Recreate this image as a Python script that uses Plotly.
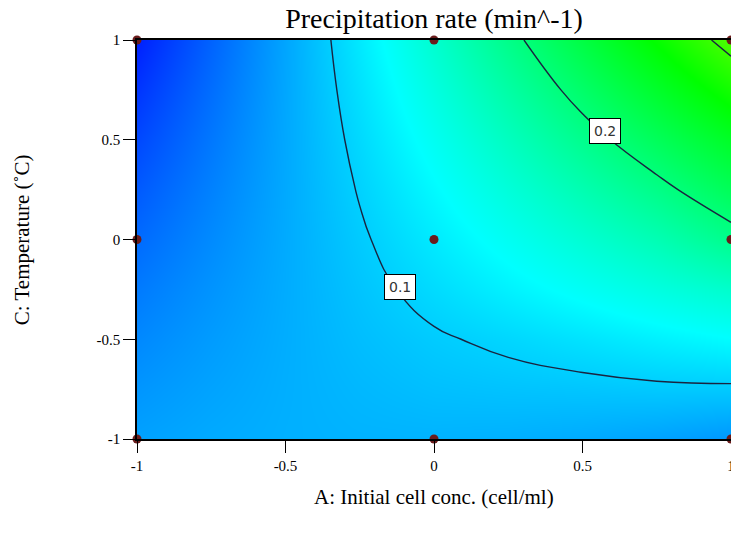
import plotly.graph_objects as go

# Coded factor levels (grid of the response surface)
x_levels = [-1, -0.75, -0.5, -0.25, 0, 0.25, 0.5, 0.75, 1]   # A: Initial cell conc.
y_levels = [-1, -0.75, -0.5, -0.25, 0, 0.25, 0.5, 0.75, 1]   # C: Temperature

# Precipitation rate (min^-1), rows = y_levels, cols = x_levels
rate_y_m100 = [0.0745, 0.0792, 0.0824, 0.0840, 0.0840, 0.0825, 0.0794, 0.0747, 0.0685]
rate_y_m075 = [0.0679, 0.0753, 0.0817, 0.0869, 0.0911, 0.0930, 0.0945, 0.0965, 0.0968]
rate_y_m050 = [0.0606, 0.0712, 0.0810, 0.0902, 0.0977, 0.1040, 0.1110, 0.1185, 0.1256]
rate_y_m025 = [0.0527, 0.0667, 0.0803, 0.0936, 0.1066, 0.1192, 0.1315, 0.1434, 0.1550]
rate_y_000 = [0.0440, 0.0618, 0.0796, 0.0973, 0.1150, 0.1326, 0.1501, 0.1676, 0.1900]
rate_y_p025 = [0.0347, 0.0567, 0.0789, 0.1013, 0.1238, 0.1465, 0.1694, 0.1924, 0.2190]
rate_y_p050 = [0.0246, 0.0513, 0.0783, 0.1055, 0.1331, 0.1610, 0.1893, 0.2178, 0.2466]
rate_y_p075 = [0.0139, 0.0455, 0.0776, 0.1100, 0.1428, 0.1761, 0.2098, 0.2438, 0.2783]
rate_y_p100 = [0.0025, 0.0395, 0.0769, 0.1147, 0.1530, 0.1917, 0.2309, 0.2705, 0.3105]
z_rate = [rate_y_m100, rate_y_m075, rate_y_m050, rate_y_m025, rate_y_000,
          rate_y_p025, rate_y_p050, rate_y_p075, rate_y_p100]

# Contour levels and their labels
contour_levels = [0.1, 0.2, 0.3]
label_text = ["0.1", "0.2"]
label_x = [-0.114, 0.576]
label_y = [-0.236, 0.546]

# Design points
design_x = [-1, 0, 1, -1, 0, 1, -1, 0, 1]
design_y = [1, 1, 1, 0, 0, 0, -1, -1, -1]

tick_vals = [-1, -0.5, 0, 0.5, 1]
tick_text = ["-1", "-0.5", "0", "0.5", "1"]

de_scale = [[0.0, "rgb(0,0,255)"], [0.25, "rgb(0,255,255)"], [0.5, "rgb(0,255,0)"],
            [0.75, "rgb(255,255,0)"], [1.0, "rgb(255,0,0)"]]

fig = go.Figure()
fig.add_trace(go.Heatmap(x=x_levels, y=y_levels, z=z_rate, zsmooth="best",
                         colorscale=de_scale, zmin=-0.015, zmax=0.55,
                         showscale=False, hoverinfo="skip"))
fig.add_trace(go.Contour(x=x_levels, y=y_levels, z=z_rate,
                         contours=dict(start=contour_levels[0], end=contour_levels[-1],
                                       size=0.1, coloring="none", showlabels=False),
                         line=dict(color="#1a2440", width=1.4, smoothing=1.3),
                         showscale=False, hoverinfo="skip"))
fig.add_trace(go.Scatter(x=design_x, y=design_y, mode="markers",
                         marker=dict(size=9, color="#6a1c1c"),
                         cliponaxis=False, hoverinfo="skip"))

serif = "Liberation Serif, Times New Roman, serif"
for t, lx, ly in zip(label_text, label_x, label_y):
    fig.add_annotation(x=lx, y=ly, xref="x", yref="y", text=t, showarrow=False,
                       font=dict(family="DejaVu Sans, sans-serif", size=14, color="#333333"),
                       bgcolor="white", bordercolor="black", borderwidth=1, borderpad=4)

fig.add_annotation(x=0.5, y=-0.145, xref="paper", yref="paper",
                   text="A: Initial cell conc. (cell/ml)", showarrow=False,
                   font=dict(family=serif, size=21, color="black"),
                   xanchor="center", yanchor="middle")
fig.add_annotation(x=-0.194, y=0.5, xref="paper", yref="paper",
                   text="C: Temperature (˚C)", showarrow=False, textangle=-90,
                   font=dict(family=serif, size=21, color="black"),
                   xanchor="center", yanchor="middle")

axis_common = dict(range=[-1, 1], tickmode="array", tickvals=tick_vals, ticktext=tick_text,
                   ticks="outside", ticklen=12, tickcolor="black", tickwidth=1,
                   showline=True, linecolor="black", linewidth=1.5, mirror=True,
                   showgrid=False, zeroline=False, ticklabeloverflow="allow",
                   automargin=False,
                   tickfont=dict(family=serif, size=15, color="black"))

fig.update_layout(
    width=731, height=535,
    margin=dict(l=137, r=0, t=40, b=96, autoexpand=False),
    paper_bgcolor="white", plot_bgcolor="white",
    showlegend=False,
    title=dict(text="Precipitation rate (min^-1)", x=0.5, xref="paper",
               y=0.966, yanchor="middle",
               font=dict(family=serif, size=28, color="black")),
    xaxis=axis_common,
    yaxis=axis_common,
)

fig.write_html("out.html", config={"displayModeBar": False},
               post_script="document.body.style.margin='0';document.body.style.overflow='hidden';")
